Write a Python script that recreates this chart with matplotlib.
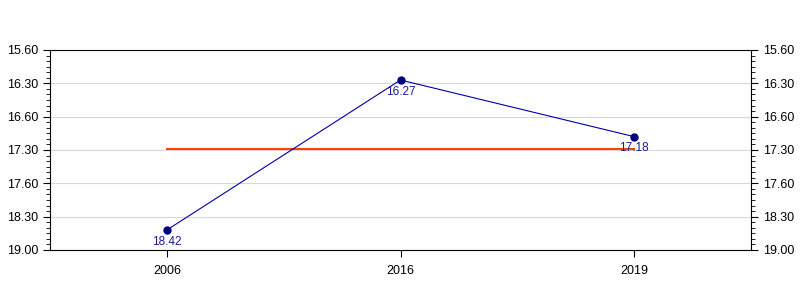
import matplotlib
matplotlib.use("Agg")
import matplotlib.pyplot as plt
from matplotlib.ticker import MultipleLocator

plt.rcParams["font.family"] = ["Liberation Sans", "DejaVu Sans"]

years = ["2006", "2016", "2019"]
times = ["18.42", "16.27", "17.18"]  # minutes.seconds
ytick_vals = [16.0, 16.5, 17.0, 17.5, 18.0, 18.5, 19.0]
ytick_labels = ["15.60", "16.30", "16.60", "17.30", "17.60", "18.30", "19.00"]


def to_minutes(s):
    m, sec = s.split(".")
    return int(m) + int(sec) / 60


vals = [to_minutes(t) for t in times]
mean_val = sum(vals) / len(vals)
x = list(range(len(years)))

fig = plt.figure(figsize=(8, 3), dpi=100)
ax = fig.add_axes([50 / 800, 50 / 300, 701 / 800, 200 / 300])

ax.plot(x, vals, color="#0000aa", lw=0.8, marker="o", ms=5,
        mfc="#000080", mec="#000080", zorder=3)
ax.plot([x[0], x[-1]], [mean_val, mean_val], color="#ff4500", lw=1.5, zorder=2)

for xi, v, t in zip(x, vals, times):
    ax.annotate(t, (xi, v), xytext=(0, -4), textcoords="offset points",
                ha="center", va="top", fontsize=8.5, color="#1a1a99", zorder=4)

ax.set_xlim(-0.5, len(years) - 0.5)
ax.set_ylim(19.0, 16.0)
ax.set_xticks(x)
ax.set_xticklabels(years)

ax.set_yticks(ytick_vals)
ax.set_yticklabels(ytick_labels)
ax.yaxis.set_minor_locator(MultipleLocator(1 / 12))
ax.tick_params(axis="y", which="both", left=True, right=True,
               labelleft=True, labelright=True, direction="out")
ax.tick_params(axis="y", which="major", length=5, labelsize=9)
ax.tick_params(axis="y", which="minor", length=3)
ax.tick_params(axis="x", which="major", length=5, labelsize=9, pad=6)

ax.grid(axis="y", which="major", color="#d8d8d8", lw=0.8)
ax.set_axisbelow(True)
for sp in ax.spines.values():
    sp.set_linewidth(0.8)

fig.savefig("out.png", dpi=100)
